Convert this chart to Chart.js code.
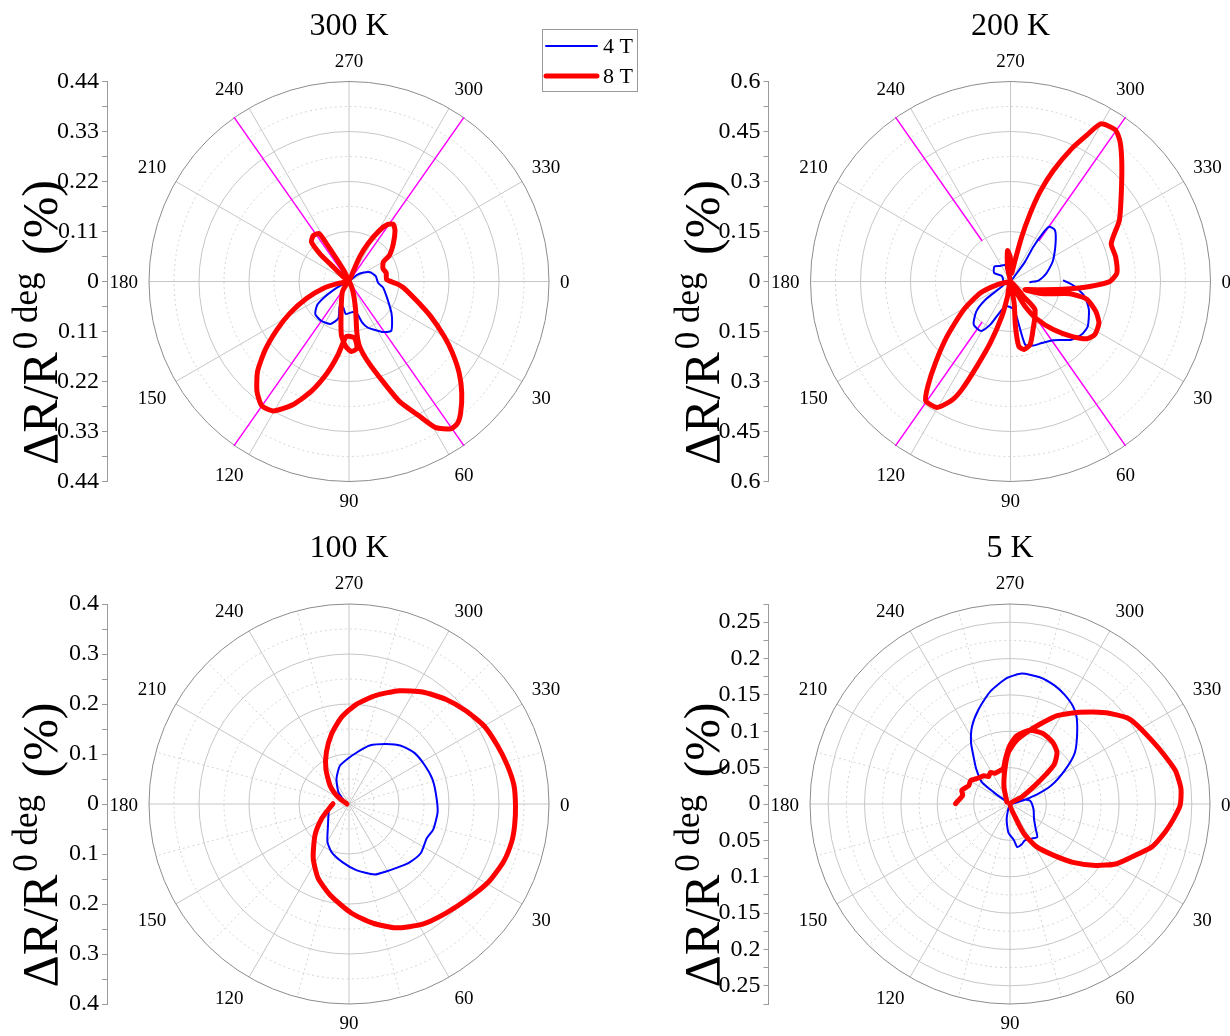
<!DOCTYPE html>
<html lang="en">
<head>
    <meta charset="UTF-8">
    <title>Angular magnetoresistance</title>
    <script src="https://cdn.jsdelivr.net/npm/chart.js"></script>
    <style>
        * { box-sizing: border-box; margin: 0; padding: 0; }
        body { background: #fff; width: 1230px; height: 1036px; overflow: hidden; }
        #page { position: relative; width: 1230px; height: 1036px; }
        #page canvas { position: absolute; left: 0; top: 0; }
    </style>
</head>
<body>
<div id="page">
    <canvas id="c300" width="1230" height="1036"></canvas>
    <canvas id="c200" width="1230" height="1036"></canvas>
    <canvas id="c100" width="1230" height="1036"></canvas>
    <canvas id="c5" width="1230" height="1036"></canvas>
</div>
<script>
// angle in degrees (0 = right, 90 = bottom), radius = dR/R in %
// points are listed in the order the traces run
const ang300_8T = [200, 217.9, 222.8, 223.7, 226.5, 232.2, 238.0, 239.2, 241.2, 245.9, 270, 292.5, 293.4, 296.6, 300.9, 304.2, 307.9, 312.1, 319.6, 327.1, 330.4, 339.1, 346.9, 357.0, 2.4, 6.3, 15.5, 23.2, 30.0, 34.7, 39.7, 44.7, 49.6, 52.6, 55.3, 59.3, 62.4, 67.2, 71.3, 76.7, 80.7, 81.3, 76.9, 68.8, 90, 122.8, 104.0, 98.1, 92.9, 88.1, 83.2, 84.3, 92.8, 98.5, 103.4, 108.9, 114.4, 120.3, 125.1, 130.0, 135.5, 140.8, 146.2, 151.7, 158.3, 164.9, 169.7, 180];
const r300_8T = [0, 0.017, 0.053, 0.089, 0.120, 0.128, 0.124, 0.097, 0.057, 0.023, 0.002, 0.023, 0.059, 0.093, 0.131, 0.152, 0.159, 0.151, 0.128, 0.106, 0.087, 0.080, 0.084, 0.083, 0.104, 0.120, 0.153, 0.196, 0.242, 0.277, 0.315, 0.349, 0.379, 0.393, 0.394, 0.374, 0.334, 0.286, 0.232, 0.181, 0.145, 0.115, 0.064, 0.024, 0, 0.027, 0.072, 0.119, 0.143, 0.154, 0.148, 0.125, 0.121, 0.163, 0.207, 0.255, 0.297, 0.330, 0.334, 0.315, 0.282, 0.238, 0.191, 0.148, 0.100, 0.059, 0.024, 0];
const ang300_4T = [320, 320.2, 328.5, 336.4, 348.7, 2.6, 10, 20.1, 28.8, 36.9, 44.1, 49.6, 56.1, 62.2, 67.7, 72.1, 75, 79.4, 88.8, 95.8, 103, 110.7, 106.1, 113.6, 125.8, 136.1, 143.5, 147.2, 150.8, 154.4, 180];
const r300_4T = [0, 0.023, 0.038, 0.051, 0.060, 0.064, 0.076, 0.087, 0.100, 0.117, 0.132, 0.143, 0.134, 0.120, 0.110, 0.095, 0.076, 0.068, 0.069, 0.072, 0.058, 0.058, 0.084, 0.102, 0.106, 0.103, 0.087, 0.066, 0.042, 0.019, 0];

const ang200_8T = [250, 258.7, 264.5, 269.2, 276.8, 282.2, 284.1, 286.1, 288.2, 291.1, 294.7, 297.5, 299.8, 304.7, 308.2, 313.4, 321.6, 330.6, 339.3, 346.7, 355.5, 0, 3.6, 7.7, 14.2, 29.6, 20.5, 11.7, 13.0, 19.3, 25.1, 32.2, 36.7, 41.5, 48.3, 55, 59.6, 61.5, 70, 80.4, 83.7, 82.7, 78.7, 72.7, 63.8, 49, 49.1, 90, 101.3, 103.9, 108.2, 111.6, 114.2, 116.2, 120.2, 125.4, 128.3, 132.7, 139.2, 148.9, 159, 166.3, 180];
const r200_8T = [0, 0.046, 0.093, 0.075, 0.025, 0.066, 0.139, 0.212, 0.283, 0.357, 0.438, 0.494, 0.545, 0.553, 0.532, 0.486, 0.424, 0.375, 0.323, 0.324, 0.320, 0.298, 0.238, 0.170, 0.102, 0.050, 0.105, 0.182, 0.234, 0.271, 0.293, 0.299, 0.287, 0.251, 0.193, 0.137, 0.087, 0.040, 0, 0.066, 0.135, 0.196, 0.208, 0.198, 0.155, 0.112, 0.059, 0, 0.046, 0.108, 0.194, 0.273, 0.354, 0.396, 0.437, 0.439, 0.400, 0.332, 0.251, 0.164, 0.097, 0.042, 0];
const ang200_4T = [359, 4.4, 11.4, 19.8, 30.1, 35.9, 43.6, 53.9, 63.1, 70.3, 77, 82.6, 102, 115.1, 120.7, 130.5, 138.9, 144.1, 146.6, 154.5, 213, 207, 222.6, 236.6, 252, 250, 290, 307.2, 306.3, 303.3, 303.8, 305.3, 310.8, 319.8, 334.7, 347.9, 358, 2];
const r200_4T = [0.160, 0.194, 0.227, 0.250, 0.268, 0.267, 0.253, 0.218, 0.207, 0.204, 0.194, 0.085, 0.076, 0.143, 0.173, 0.170, 0.136, 0.093, 0.049, 0.023, 0.031, 0.055, 0.066, 0.056, 0.052, 0.027, 0.003, 0.031, 0.074, 0.125, 0.174, 0.201, 0.204, 0.177, 0.140, 0.109, 0.084, 0.059];

const ang100_8T = [180, 212.5, 223.9, 236.6, 246.4, 255.9, 265, 274.2, 284, 294, 303.3, 312.7, 321.4, 329.9, 338.5, 346.3, 353.6, 0.5, 7.3, 13.1, 20.4, 29, 38.1, 48.4, 58.5, 69.2, 78.7, 88.8, 100.8, 112.5, 123.4, 137.6, 152, 166.9, 181];
const r100_8T = [0.004, 0.026, 0.052, 0.084, 0.113, 0.144, 0.174, 0.200, 0.224, 0.248, 0.268, 0.285, 0.299, 0.312, 0.319, 0.326, 0.332, 0.333, 0.334, 0.334, 0.330, 0.320, 0.305, 0.292, 0.282, 0.265, 0.243, 0.218, 0.188, 0.161, 0.130, 0.092, 0.062, 0.041, 0.032];
const ang100_4T = [217.9, 228.4, 243.4, 256.2, 268.8, 279.7, 289.4, 301.7, 311.7, 322, 332.5, 343.2, 353.3, 5.1, 16.7, 24, 34.5, 44.2, 52.4, 61.2, 70, 83.7, 96.5, 110.2, 119.7, 134.5, 162.4, 181];
const r100_4T = [0.015, 0.032, 0.056, 0.078, 0.091, 0.106, 0.124, 0.141, 0.156, 0.166, 0.170, 0.174, 0.175, 0.178, 0.176, 0.170, 0.174, 0.168, 0.160, 0.154, 0.150, 0.133, 0.117, 0.102, 0.087, 0.060, 0.042, 0.032];

const ang5_8T = [180.3, 184.1, 190.4, 195.8, 204.1, 210.6, 219.7, 227.1, 232.3, 238, 244.2, 253.5, 259.5, 264.1, 269.3, 275.5, 285, 295, 304.9, 312.3, 318.1, 320.4, 323.3, 329, 330, 67.8, 64.4, 58.2, 49.8, 42.8, 35.6, 29.6, 23.3, 16.7, 10.1, 5.1, 0.4, 354.9, 348.6, 341.3, 334.4, 327.6, 323.7, 316.4, 307.1, 297.8, 290.5, 283, 275.4, 268.2, 261.9, 250.6, 211];
const r5_8T = [0.075, 0.071, 0.066, 0.069, 0.062, 0.063, 0.056, 0.053, 0.048, 0.051, 0.047, 0.048, 0.050, 0.062, 0.079, 0.094, 0.105, 0.107, 0.103, 0.096, 0.082, 0.065, 0.043, 0.019, 0, 0.022, 0.047, 0.069, 0.092, 0.118, 0.145, 0.167, 0.183, 0.204, 0.217, 0.226, 0.234, 0.236, 0.232, 0.221, 0.212, 0.205, 0.200, 0.182, 0.158, 0.137, 0.117, 0.101, 0.087, 0.071, 0.049, 0.025, 0.005];
const ang5_4T = [200, 215.8, 217.8, 226.1, 232, 237.6, 244, 251.6, 260, 268.5, 275.1, 283.2, 290.7, 296.5, 302.7, 307.7, 315.9, 322.2, 328.5, 335.9, 340.7, 344.6, 100, 102.5, 93.4, 83.8, 80.4, 74.1, 67.8, 58.2, 50.6, 43.9, 32, 12.1, 350.5, 342, 346, 0];
const r5_4T = [0, 0.028, 0.049, 0.067, 0.081, 0.100, 0.119, 0.137, 0.157, 0.173, 0.180, 0.179, 0.174, 0.168, 0.160, 0.150, 0.128, 0.112, 0.088, 0.062, 0.039, 0.019, 0.002, 0.021, 0.039, 0.050, 0.060, 0.058, 0.054, 0.056, 0.059, 0.049, 0.039, 0.033, 0.028, 0.019, 0.009, 0];

// magenta guide lines: angles and radial extent
const guide300Ang = [55, 125];
const guide300R = [-0.44, 0.44];
const guide200Ang = [55, 125, 235, 305];
const guide200R = [0.15, 0.6];

const W = 1230, H = 1036, R = 200, AXW = 70;
const SERIF = '"Liberation Serif", "Times New Roman", serif';
Chart.defaults.font.family = SERIF;
Chart.defaults.color = '#000';

function toXY(angles, radii) {
    return angles.map((a, i) => {
        const t = a * Math.PI / 180;
        return { x: radii[i] * Math.cos(t), y: -radii[i] * Math.sin(t) };
    });
}

// polar grid, angle labels, titles and legend
const polarGrid = {
    id: 'polarGrid',
    beforeDatasetsDraw(chart, args, o) {
        const ctx = chart.ctx, xs = chart.scales.x, ys = chart.scales.y;
        const ox = xs.getPixelForValue(0), oy = ys.getPixelForValue(0);
        const px = v => oy - ys.getPixelForValue(v);
        const rr = px(o.rmax), minor = o.major / 2;
        const n = Math.round(o.rmax / minor);
        ctx.save();
        ctx.lineWidth = 1;
        for (let i = 1; i < n; i++) {
            ctx.beginPath();
            ctx.setLineDash(i % 2 ? [2, 3] : []);
            ctx.strokeStyle = i % 2 ? '#d4d4d4' : '#c6c6c6';
            ctx.arc(ox, oy, px(i * minor), 0, 2 * Math.PI);
            ctx.stroke();
        }
        const step = o.minorSpokes ? 15 : 30;
        for (let a = 0; a < 360; a += step) {
            const t = a * Math.PI / 180, major = a % 30 === 0;
            ctx.beginPath();
            ctx.setLineDash(major ? [] : [2, 3]);
            ctx.strokeStyle = major ? '#c6c6c6' : '#d4d4d4';
            ctx.moveTo(ox, oy);
            ctx.lineTo(ox + rr * Math.cos(t), oy + rr * Math.sin(t));
            ctx.stroke();
        }
        ctx.setLineDash([]);
        ctx.strokeStyle = '#8c8c8c';
        ctx.beginPath();
        ctx.arc(ox, oy, rr, 0, 2 * Math.PI);
        ctx.stroke();

        // angle labels: nearest corner of the text sits just outside the rim
        ctx.font = '19px ' + SERIF;
        ctx.fillStyle = '#000';
        ctx.textBaseline = 'alphabetic';
        const digitH = 13;
        for (let a = 0; a < 360; a += 30) {
            const t = a * Math.PI / 180, c = Math.cos(t), s = Math.sin(t);
            const ax = ox + (rr + 11) * c, ay = oy + (rr + 12) * s;
            ctx.textAlign = c > 0.1 ? 'left' : (c < -0.1 ? 'right' : 'center');
            let by;
            if (s < -0.1) by = ay - 3;
            else if (s > 0.1) by = ay + digitH + (Math.abs(c) > 0.1 ? 3 : 0);
            else by = ay + digitH / 2;
            ctx.fillText(String(a), ax, by);
        }
        ctx.restore();
    },
    afterDraw(chart, args, o) {
        const ctx = chart.ctx, xs = chart.scales.x, ys = chart.scales.y;
        const ox = xs.getPixelForValue(0), oy = ys.getPixelForValue(0);
        const rr = oy - ys.getPixelForValue(o.rmax);
        ctx.save();
        ctx.fillStyle = '#000';
        ctx.textAlign = 'center';
        ctx.textBaseline = 'middle';
        ctx.font = '32px ' + SERIF;
        ctx.fillText(o.title, ox, oy - rr - 55);

        // rotated axis title with superscript
        ctx.translate(ys.right - 50, oy + 41);
        ctx.rotate(-Math.PI / 2);
        ctx.textAlign = 'left';
        ctx.textBaseline = 'alphabetic';
        const big = '50px ' + SERIF, small = '35px ' + SERIF;
        ctx.font = big; const w1 = ctx.measureText('\u0394R/R').width;
        ctx.font = small; const w2 = ctx.measureText('0 deg').width;
        ctx.font = big; const w3 = ctx.measureText(' (%)').width;
        const gap = 4;
        let x = -(w1 + w2 + w3 + 4 + gap) / 2;
        ctx.font = big; ctx.fillText('\u0394R/R', x, 0); x += w1 + 3;
        ctx.font = small; ctx.fillText('0 deg', x, -20); x += w2 + 1 + gap;
        ctx.font = big; ctx.fillText(' (%)', x, 0);
        ctx.restore();

        if (o.legend) {
            const items = chart.data.datasets.filter(d => d.label).reverse();
            ctx.save();
            ctx.strokeStyle = '#9a9a9a';
            ctx.lineWidth = 1;
            ctx.strokeRect(542.5, 29.5, 95, 62);
            ctx.font = '22px ' + SERIF;
            ctx.fillStyle = '#000';
            ctx.textBaseline = 'middle';
            items.forEach((d, i) => {
                const y = 46 + i * 30;
                ctx.beginPath();
                ctx.strokeStyle = d.borderColor;
                ctx.lineWidth = d.borderWidth;
                ctx.lineCap = 'round';
                ctx.moveTo(546, y);
                ctx.lineTo(597, y);
                ctx.stroke();
                ctx.fillText(d.label, 603, y + 1);
            });
            ctx.restore();
        }
    }
};

const panels = [
    { id: 'c300', title: '300 K', cx: 349, cy: 281.5, axisX: 107, rmax: 0.44, major: 0.11, minorSpokes: false, legend: true,
      red: [ang300_8T, r300_8T], blue: [ang300_4T, r300_4T], guideAng: guide300Ang, guideR: guide300R },
    { id: 'c200', title: '200 K', cx: 1010.5, cy: 281.5, axisX: 768.5, rmax: 0.6, major: 0.15, minorSpokes: false, legend: false,
      red: [ang200_8T, r200_8T], blue: [ang200_4T, r200_4T], guideAng: guide200Ang, guideR: guide200R },
    { id: 'c100', title: '100 K', cx: 349, cy: 804, axisX: 107, rmax: 0.4, major: 0.1, minorSpokes: true, legend: false,
      red: [ang100_8T, r100_8T], blue: [ang100_4T, r100_4T], guideAng: [], guideR: [] },
    { id: 'c5', title: '5 K', cx: 1010, cy: 804, axisX: 768.5, rmax: 0.275, major: 0.05, minorSpokes: true, legend: false,
      red: [ang5_8T, r5_8T], blue: [ang5_4T, r5_4T], guideAng: [], guideR: [] }
];

panels.forEach(p => {
    const datasets = [
        { label: '8 T', data: toXY(p.red[0], p.red[1]), borderColor: '#ff0000', borderWidth: 5, tension: 0.2 },
        { label: '4 T', data: toXY(p.blue[0], p.blue[1]), borderColor: '#0000ff', borderWidth: 2, tension: 0.2 }
    ];
    p.guideAng.forEach(a => {
        datasets.push({ data: toXY([a, a], p.guideR), borderColor: '#ff00ff', borderWidth: 1.5, tension: 0 });
    });

    new Chart(document.getElementById(p.id), {
        type: 'scatter',
        data: { datasets: datasets },
        options: {
            responsive: false,
            animation: false,
            events: [],
            showLine: true,
            clip: false,
            layout: { padding: { left: p.axisX - AXW, top: p.cy - R, right: W - (p.cx + R), bottom: H - (p.cy + R) } },
            elements: {
                point: { radius: 0 },
                line: { borderJoinStyle: 'round', borderCapStyle: 'round', fill: false }
            },
            plugins: {
                legend: { display: false },
                tooltip: { enabled: false },
                polarGrid: { title: p.title, rmax: p.rmax, major: p.major, minorSpokes: p.minorSpokes, legend: p.legend }
            },
            scales: {
                x: { type: 'linear', display: false, min: -p.rmax * (p.cx - p.axisX) / R, max: p.rmax },
                y: {
                    type: 'linear',
                    min: -p.rmax,
                    max: p.rmax,
                    afterFit: s => { s.width = AXW; },
                    ticks: {
                        stepSize: p.major / 2,
                        autoSkip: false,
                        padding: 3,
                        color: '#000',
                        font: { size: 24 },
                        callback: v => {
                            const q = v / p.major;
                            if (Math.abs(q - Math.round(q)) > 1e-6) return '';
                            return String(+Math.abs(v).toFixed(3));
                        }
                    },
                    grid: { drawOnChartArea: false, tickLength: 5, color: '#9a9a9a' },
                    border: { color: '#9a9a9a' }
                }
            }
        },
        plugins: [polarGrid]
    });
});
</script>
</body>
</html>
